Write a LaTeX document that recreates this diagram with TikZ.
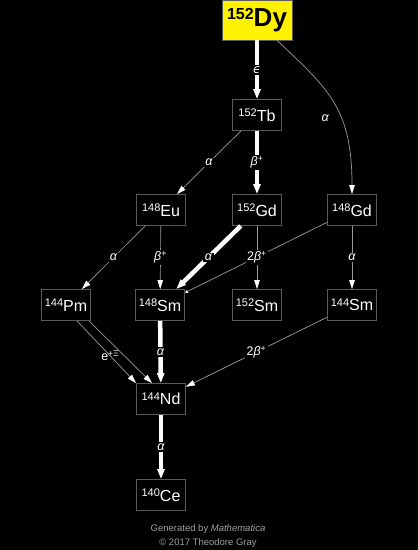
\documentclass[tikz,border=0pt]{standalone}
\usepackage{fontspec}
\setmainfont{Liberation Sans}
\newfontfamily\djv{DejaVu Sans}
\usetikzlibrary{arrows.meta,calc}
\definecolor{edgegray}{HTML}{9A9A9A}
\definecolor{boxgray}{HTML}{5A5A5A}
\definecolor{footgray}{HTML}{A0A0A0}
\newcommand{\iso}[2]{\raisebox{4.5pt}{\fontsize{11}{11}\selectfont #1}\fontsize{16}{16}\selectfont #2}
\newcommand{\isobig}[2]{\bfseries\raisebox{7pt}{\fontsize{16}{16}\selectfont #1}\fontsize{26}{26}\selectfont #2}
\begin{document}
\begin{tikzpicture}[x=1pt,y=-1pt,
  nuc/.style={draw=boxgray, line width=0.8pt, fill=black, text=white,
    minimum width=49pt, minimum height=31pt, inner sep=0pt},
  parent/.style={draw=boxgray, line width=0.8pt, fill=yellow, text=black,
    minimum width=70pt, minimum height=40pt, inner sep=0pt},
  thinedge/.style={draw=edgegray, line width=0.7pt,
    -{Triangle[width=5.5pt,length=9pt,color=white]}},
  tinyedge/.style={draw=edgegray, line width=0.7pt,
    -{Triangle[width=3pt,length=3pt,color=white]}},
  thickedge/.style={draw=white, line width=4.5pt,
    -{Triangle[width=7pt,length=10pt]}},
  lab/.style={fill=black, text=white, inner sep=1.5pt,
    font=\fontsize{12.5}{12.5}\selectfont},
  foot/.style={text=footgray, inner sep=0pt, font=\fontsize{9.5}{9.5}\selectfont}
]
\fill[black] (0,0) rectangle (418,550);
\useasboundingbox (0,0) rectangle (418,550);

\node[parent] (dy) at (257,20) {\isobig{152}{Dy}};
\node[nuc] (tb) at (257,115) {\iso{152}{Tb}};
\node[nuc] (eu) at (161,210) {\iso{148}{Eu}};
\node[nuc] (gda) at (257,210) {\iso{152}{Gd}};
\node[nuc] (gdb) at (352,210) {\iso{148}{Gd}};
\node[nuc] (pm) at (66,305) {\iso{144}{Pm}};
\node[nuc] (sma) at (160,305) {\iso{148}{Sm}};
\node[nuc] (smb) at (257,305) {\iso{152}{Sm}};
\node[nuc] (smc) at (352,305) {\iso{144}{Sm}};
\node[nuc] (nd) at (161,399) {\iso{144}{Nd}};
\node[nuc] (ce) at (161,495) {\iso{140}{Ce}};

% edges
\draw[thickedge] (dy) -- node[lab] {{\djv\itshape ϵ}} (tb);
\draw[thinedge] ($(dy.south)+(20,0)$) .. controls (330,90) and (352,110) .. (gdb.north)
  node[lab, pos=0.5, xshift=-9pt, yshift=-14pt] {\textit{α}};
\draw[thinedge] (tb) -- node[lab] {\textit{α}} (eu);
\draw[thickedge] (tb) -- node[lab] {\textit{β}\textsuperscript{+}} (gda);
\draw[thinedge] (eu) -- node[lab] {\textit{α}} (pm);
\draw[thinedge] (eu) -- node[lab] {\textit{β}\textsuperscript{+}} (sma);
\draw[tinyedge] (gdb) -- (sma);
\draw[thickedge] (gda) -- node[lab] {\textit{α}} (sma);
\draw[thinedge] (gda) -- node[lab] {2\textit{β}\textsuperscript{+}} (smb);
\draw[thinedge] (gdb) -- node[lab] {\textit{α}} (smc);
\draw[thinedge] ($(pm.south)+(11,0)$) -- (nd.north west);
\draw[thinedge] ($(pm.south east)+(-2,0)$) -- ($(nd.north)+(-9,0)$);
\node[lab, fill=none] (pmlab) at (110,356) {e\raisebox{4pt}{\fontsize{8.5}{8.5}\selectfont +Ξ}};
\draw[thickedge] (sma) -- node[lab] {\textit{α}} (nd);
\draw[thinedge] (smc) -- node[lab] {2\textit{β}\textsuperscript{+}} (nd);
\draw[thickedge] (nd) -- node[lab] {\textit{α}} (ce);

\node[foot] (f1) at (208,529) {Generated by \textit{Mathematica}};
\node[foot] (f2) at (208,543) {© 2017 Theodore Gray};
\end{tikzpicture}
\end{document}
